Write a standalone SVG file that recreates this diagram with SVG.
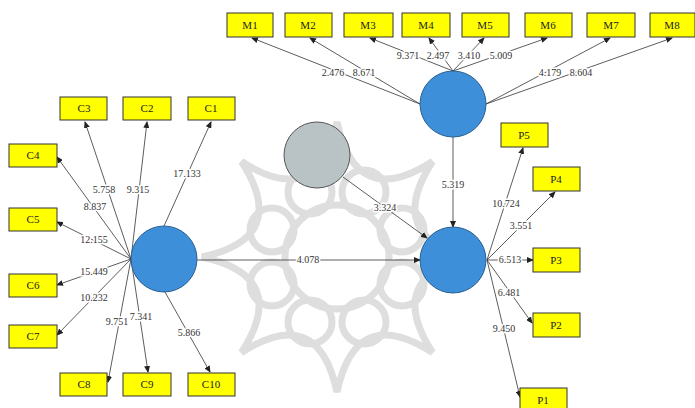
<svg xmlns="http://www.w3.org/2000/svg" width="695" height="408" viewBox="0 0 695 408">
<defs>
<marker id="ah" markerWidth="7" markerHeight="6" refX="6" refY="3" orient="auto" markerUnits="userSpaceOnUse">
<path d="M0,0 L7,3 L0,6 Z" fill="#222"/>
</marker>
</defs>
<style>
.box{fill:#ffff00;stroke:#333;stroke-width:1}
.bt{font-family:"Liberation Serif",serif;font-size:11px;fill:#222;text-anchor:middle}
.lv{fill:#3d8fd9;stroke:#2a5f8f;stroke-width:1}
.gv{fill:#b9c2c5;stroke:#555;stroke-width:1}
.ln{stroke:#333;stroke-width:0.8;fill:none;marker-end:url(#ah)}
.lb{font-family:"Liberation Serif",serif;font-size:10px;fill:#333;text-anchor:middle;stroke:#fff;stroke-width:3;paint-order:stroke;stroke-linejoin:round}
.wm{fill:none;stroke:#dedede;stroke-width:7}
</style>
<rect width="695" height="408" fill="#fff"/>
<g id="watermark">
<path class="wm" d="M472,257 Q383.2,237.9 432.5,161.5 Q356.1,210.8 337,122 Q317.9,210.8 241.5,161.5 Q290.8,237.9 202,257 Q290.8,276.1 241.5,352.5 Q317.9,303.2 337,392 Q356.1,303.2 432.5,352.5 Q383.2,276.1 472,257 Z"/>
<circle class="wm" cx="337" cy="257" r="52" stroke-width="12"/>
<g class="wm" stroke-width="6">
<circle cx="402" cy="230" r="22"/>
<circle cx="364" cy="192" r="22"/>
<circle cx="310" cy="192" r="22"/>
<circle cx="272" cy="230" r="22"/>
<circle cx="272" cy="284" r="22"/>
<circle cx="310" cy="322" r="22"/>
<circle cx="364" cy="322" r="22"/>
<circle cx="402" cy="284" r="22"/>
</g>
</g>
<g id="connectors">
<line class="ln" x1="420" y1="104" x2="252" y2="38"/>
<line class="ln" x1="420" y1="104" x2="310" y2="38"/>
<line class="ln" x1="453" y1="71" x2="370" y2="38"/>
<line class="ln" x1="453" y1="71" x2="429" y2="38"/>
<line class="ln" x1="453" y1="71" x2="484" y2="38"/>
<line class="ln" x1="453" y1="71" x2="547" y2="38"/>
<line class="ln" x1="486" y1="104" x2="610" y2="38"/>
<line class="ln" x1="486" y1="104" x2="672" y2="38"/>
<line class="ln" x1="164" y1="226" x2="211" y2="122"/>
<line class="ln" x1="131" y1="259" x2="147" y2="122"/>
<line class="ln" x1="131" y1="259" x2="85" y2="122"/>
<line class="ln" x1="131" y1="259" x2="57" y2="157"/>
<line class="ln" x1="131" y1="259" x2="57" y2="222"/>
<line class="ln" x1="131" y1="259" x2="57" y2="285"/>
<line class="ln" x1="131" y1="259" x2="57" y2="335"/>
<line class="ln" x1="131" y1="259" x2="108" y2="382"/>
<line class="ln" x1="131" y1="259" x2="148" y2="372"/>
<line class="ln" x1="165" y1="292" x2="210" y2="372"/>
<line class="ln" x1="197" y1="260" x2="420" y2="260"/>
<line class="ln" x1="343" y1="177" x2="427" y2="238"/>
<line class="ln" x1="453" y1="137" x2="453" y2="227"/>
<line class="ln" x1="487" y1="260" x2="523" y2="148"/>
<line class="ln" x1="487" y1="260" x2="555" y2="192"/>
<line class="ln" x1="487" y1="260" x2="533" y2="260"/>
<line class="ln" x1="487" y1="260" x2="532" y2="323"/>
<line class="ln" x1="487" y1="260" x2="520" y2="397"/>
<text class="lb" x="333" y="76">2.476</text>
<text class="lb" x="364" y="76">8.671</text>
<text class="lb" x="408" y="59">9.371</text>
<text class="lb" x="438" y="59">2.497</text>
<text class="lb" x="469" y="59">3.410</text>
<text class="lb" x="501" y="59">5.009</text>
<text class="lb" x="550" y="76">4.179</text>
<text class="lb" x="581" y="76">8.604</text>
<text class="lb" x="187" y="177">17.133</text>
<text class="lb" x="104" y="193">5.758</text>
<text class="lb" x="138" y="193">9.315</text>
<text class="lb" x="95" y="210">8.837</text>
<text class="lb" x="94" y="243">12.155</text>
<text class="lb" x="94" y="275">15.449</text>
<text class="lb" x="94" y="301">10.232</text>
<text class="lb" x="117" y="325">9.751</text>
<text class="lb" x="141" y="320">7.341</text>
<text class="lb" x="189" y="336">5.866</text>
<text class="lb" x="308" y="263">4.078</text>
<text class="lb" x="385" y="211">3.324</text>
<text class="lb" x="453" y="188">5.319</text>
<text class="lb" x="506" y="207">10.724</text>
<text class="lb" x="521" y="229">3.551</text>
<text class="lb" x="510" y="263">6.513</text>
<text class="lb" x="509" y="296">6.481</text>
<text class="lb" x="504" y="332">9.450</text>
</g>
<g id="lv-M"><circle class="lv" cx="453" cy="104" r="33"/></g>
<g id="lv-C"><circle class="lv" cx="164" cy="259" r="33"/></g>
<g id="lv-P"><circle class="lv" cx="453" cy="260" r="33"/></g>
<g id="lv-G"><circle class="gv" cx="317" cy="155" r="33"/></g>
<g id="M1"><rect class="box" x="227" y="13" width="46" height="24"/><text class="bt" x="250" y="29">M1</text></g>
<g id="M2"><rect class="box" x="285" y="13" width="47" height="24"/><text class="bt" x="308" y="29">M2</text></g>
<g id="M3"><rect class="box" x="344" y="13" width="49" height="24"/><text class="bt" x="368" y="29">M3</text></g>
<g id="M4"><rect class="box" x="402" y="13" width="48" height="24"/><text class="bt" x="426" y="29">M4</text></g>
<g id="M5"><rect class="box" x="462" y="13" width="47" height="24"/><text class="bt" x="485" y="29">M5</text></g>
<g id="M6"><rect class="box" x="525" y="13" width="47" height="24"/><text class="bt" x="548" y="29">M6</text></g>
<g id="M7"><rect class="box" x="587" y="13" width="48" height="24"/><text class="bt" x="611" y="29">M7</text></g>
<g id="M8"><rect class="box" x="650" y="13" width="45" height="24"/><text class="bt" x="672" y="29">M8</text></g>
<g id="C1"><rect class="box" x="188" y="97" width="47" height="23"/><text class="bt" x="211" y="112">C1</text></g>
<g id="C2"><rect class="box" x="123" y="97" width="48" height="23"/><text class="bt" x="147" y="112">C2</text></g>
<g id="C3"><rect class="box" x="60" y="97" width="47" height="23"/><text class="bt" x="84" y="112">C3</text></g>
<g id="C4"><rect class="box" x="9" y="144" width="48" height="23"/><text class="bt" x="33" y="159">C4</text></g>
<g id="C5"><rect class="box" x="9" y="208" width="48" height="23"/><text class="bt" x="33" y="223">C5</text></g>
<g id="C6"><rect class="box" x="9" y="274" width="48" height="23"/><text class="bt" x="33" y="289">C6</text></g>
<g id="C7"><rect class="box" x="9" y="325" width="48" height="23"/><text class="bt" x="33" y="340">C7</text></g>
<g id="C8"><rect class="box" x="60" y="373" width="47" height="23"/><text class="bt" x="84" y="388">C8</text></g>
<g id="C9"><rect class="box" x="123" y="373" width="48" height="23"/><text class="bt" x="147" y="388">C9</text></g>
<g id="C10"><rect class="box" x="188" y="373" width="47" height="23"/><text class="bt" x="211" y="388">C10</text></g>
<g id="P5"><rect class="box" x="501" y="123" width="47" height="24"/><text class="bt" x="524" y="139">P5</text></g>
<g id="P4"><rect class="box" x="533" y="167" width="47" height="24"/><text class="bt" x="556" y="183">P4</text></g>
<g id="P3"><rect class="box" x="533" y="248" width="47" height="24"/><text class="bt" x="556" y="264">P3</text></g>
<g id="P2"><rect class="box" x="533" y="313" width="47" height="24"/><text class="bt" x="556" y="329">P2</text></g>
<g id="P1"><rect class="box" x="520" y="388" width="47" height="24"/><text class="bt" x="543" y="404">P1</text></g>
</svg>
